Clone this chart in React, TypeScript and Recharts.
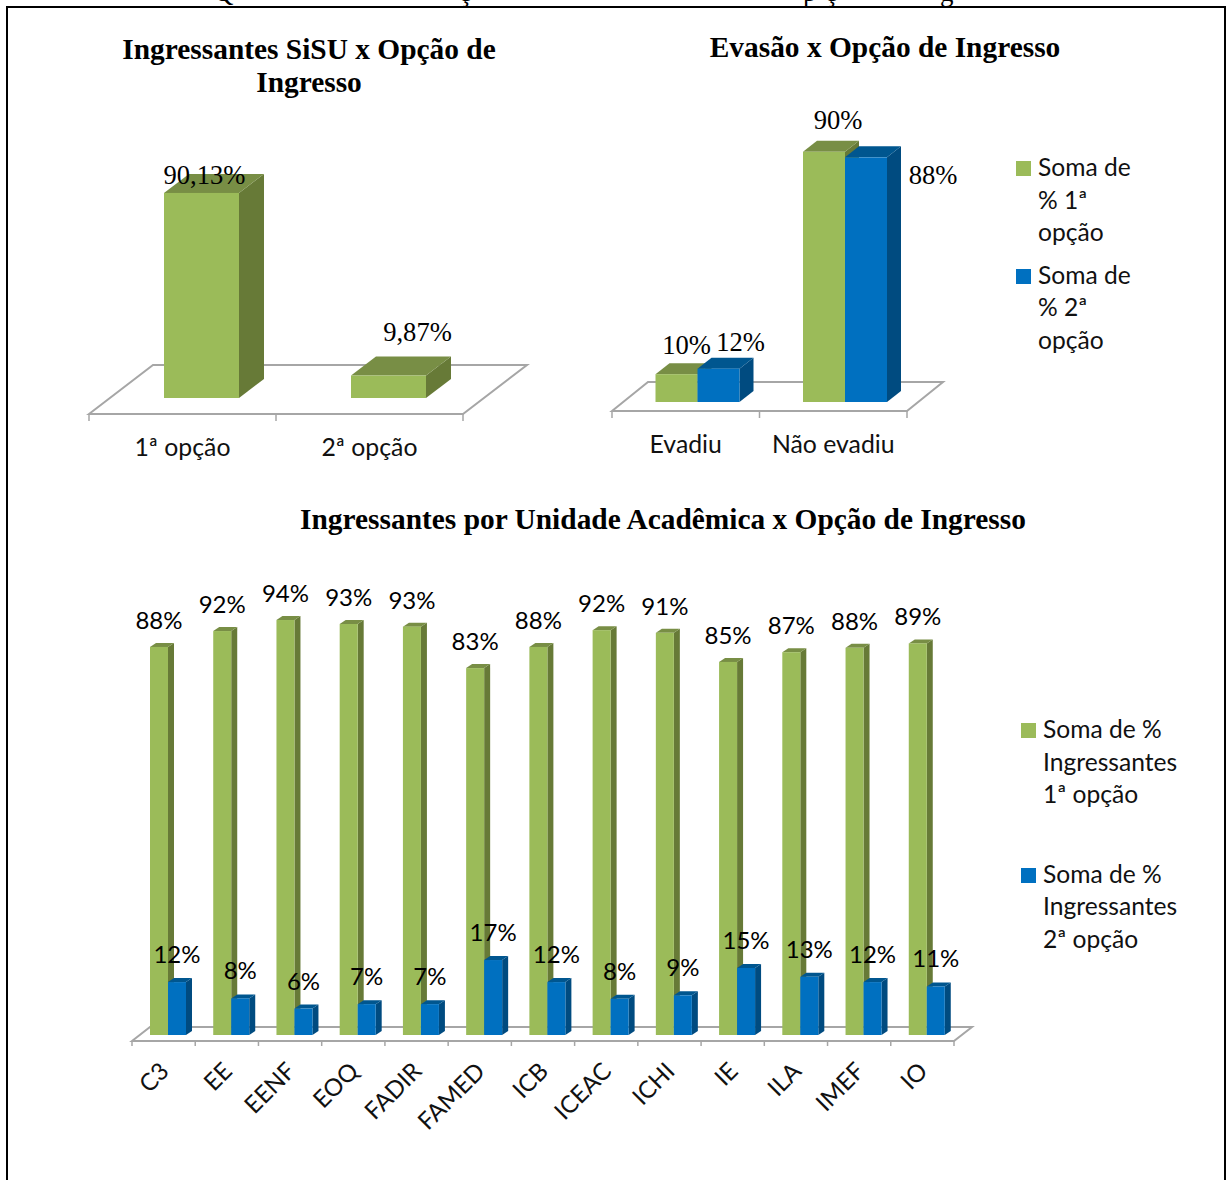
import { BarChart, Bar, XAxis, YAxis, LabelList, Legend, usePlotArea } from "recharts";

// chart 1
const opcoes = ["1ª opção", "2ª opção"];
const ingressantes = [90.13, 9.87];
const ingressantesNudge = [
  [3, -18],
  [29, -44],
];

// chart 2
const situacoes = ["Evadiu", "Não evadiu"];
const evasao1 = [10, 90];
const evasao2 = [12, 88];
const evasao1Nudge = [
  [10, -29],
  [14, -32],
];
const evasao2Nudge = [
  [22, -27],
  [67, 18],
];

// chart 3
const unidades = ["C3", "EE", "EENF", "EOQ", "FADIR", "FAMED", "ICB", "ICEAC", "ICHI", "IE", "ILA", "IMEF", "IO"];
const unidade1 = [88, 91.6, 94.1, 93.2, 92.6, 83.2, 88, 91.8, 91.2, 84.6, 86.8, 87.8, 88.8];
const unidade2 = [12, 8.3, 6, 7, 7, 17, 12, 8.2, 9, 15.2, 13.2, 12, 11];

// what is left of the caption cut off above the frame
const captionLetters = ["Q", "ç", "p", "ç", "g"];
const captionX = [214, 459, 803, 825, 940];

const GREEN = { front: "#9BBB59", top: "#788E45", side: "#677A37" };
const BLUE = { front: "#0070C0", top: "#00568F", side: "#004B80" };
const FLOOR = "#A6A6A6";
const SERIF = "'Liberation Serif', serif";
const SANS = "Lato, sans-serif";

const toRows = (cats: string[], ...series: number[][]) =>
  cats.map((name, i) => {
    const row: any = { name };
    series.forEach((s, k) => (row["s" + k] = s[i]));
    return row;
  });

// bar drawn as a box: front face, top and side, moved back onto the floor
function box(colors: any, dx: number, dy: number, depthX: number, depthY: number) {
  return (p: any) => {
    const x = p.x + dx;
    const y = p.y + dy;
    const r = x + p.width;
    const b = y + p.height;
    return (
      <g>
        <polygon points={`${r},${y} ${r + depthX},${y - depthY} ${r + depthX},${b - depthY} ${r},${b}`} fill={colors.side} />
        <polygon points={`${x},${y} ${x + depthX},${y - depthY} ${r + depthX},${y - depthY} ${r},${y}`} fill={colors.top} />
        <rect x={x} y={y} width={p.width} height={p.height} fill={colors.front} />
      </g>
    );
  };
}

function Floor({ count, depthX, depthY, tick }: { count: number; depthX: number; depthY: number; tick: number }) {
  const area = usePlotArea();
  if (!area) return null;
  const { x, y, width, height } = area;
  const base = y + height;
  const marks = [];
  for (let i = 0; i <= count; i++) {
    const tx = x + (width * i) / count;
    marks.push(<line key={i} x1={tx} x2={tx} y1={base} y2={base + tick} stroke={FLOOR} strokeWidth={1.5} />);
  }
  return (
    <g>
      <polygon
        points={`${x},${base} ${x + depthX},${base - depthY} ${x + width + depthX},${base - depthY} ${x + width},${base}`}
        fill="#fff"
        stroke={FLOOR}
        strokeWidth={2}
      />
      {marks}
    </g>
  );
}

function barLabel(dx: number, dy: number, nudge: number[][] | null, font: string, size: number, fmt: (v: number) => string, lift = 0) {
  return (p: any) => {
    const n = nudge ? nudge[p.index] : [0, -lift];
    return (
      <text
        x={p.x + p.width / 2 + dx + n[0]}
        y={p.y + dy + n[1]}
        textAnchor="middle"
        dominantBaseline="central"
        fontFamily={font}
        fontSize={size}
        fill="#000"
      >
        {fmt(p.value)}
      </text>
    );
  };
}

const flatTick = (p: any) => (
  <text x={p.x} y={p.y} textAnchor="middle" dominantBaseline="central" fontFamily={SANS} fontSize={24.8} fill="#111">
    {p.payload.value}
  </text>
);

const slantTick = (p: any) => (
  <text
    x={p.x}
    y={p.y}
    textAnchor="end"
    dominantBaseline="central"
    fontFamily={SANS}
    fontSize={24}
    fill="#111"
    transform={`rotate(-45 ${p.x} ${p.y})`}
  >
    {p.payload.value}
  </text>
);

function legendContent(width: number, gap: number) {
  return (p: any) => (
    <div style={{ width, fontFamily: SANS, fontSize: 24.6, lineHeight: "32.5px", color: "#111" }}>
      {p.payload.map((e: any, i: number) => (
        <div key={i} style={{ position: "relative", paddingLeft: 22, marginBottom: gap }}>
          <span style={{ position: "absolute", left: 0, top: 10, width: 15, height: 15, background: e.color }} />
          {e.value}
        </div>
      ))}
    </div>
  );
}

const titleStyle: any = {
  position: "absolute",
  fontFamily: SERIF,
  fontWeight: "bold",
  fontSize: 29.4,
  lineHeight: "33px",
  textAlign: "center",
  color: "#000",
};

export default function App() {
  return (
    <div style={{ position: "absolute", left: 0, top: 0, width: 1226, height: 1180, overflow: "hidden", background: "#fff" }}>
      <svg style={{ position: "absolute", left: 0, top: 0 }} width={1226} height={6}>
        {captionLetters.map((c, i) => (
          <text key={i} x={captionX[i]} y={1} fontFamily={SERIF} fontSize={27} fill="#000">
            {c}
          </text>
        ))}
      </svg>
      <div style={{ position: "absolute", left: 6, top: 6, width: 1216, height: 1300, border: "2px solid #000" }} />

      <div style={{ ...titleStyle, left: 89, top: 33, width: 440 }}>Ingressantes SiSU x Opção de Ingresso</div>
      <div style={{ ...titleStyle, left: 640, top: 31, width: 490 }}>Evasão x Opção de Ingresso</div>
      <div style={{ ...titleStyle, left: 200, top: 503, width: 926 }}>Ingressantes por Unidade Acadêmica x Opção de Ingresso</div>

      <div style={{ position: "absolute", left: 60, top: 100 }}>
        <BarChart
          width={480}
          height={380}
          data={toRows(opcoes, ingressantes)}
          barSize={75}
          margin={{ left: 29, right: 77, top: 86.5, bottom: 20 }}
        >
          <Floor count={2} depthX={64} depthY={49} tick={7} />
          <XAxis dataKey="name" height={46} axisLine={false} tickLine={false} interval={0} tick={flatTick} tickMargin={26} />
          <YAxis hide domain={[0, 100]} />
          <Bar dataKey="s0" isAnimationActive={false} shape={box(GREEN, 19, -16, 25, 19)}>
            <LabelList dataKey="s0" content={barLabel(19, -16, ingressantesNudge, SERIF, 26.6, (v) => v.toFixed(2).replace(".", ",") + "%")} />
          </Bar>
        </BarChart>
      </div>

      <div style={{ position: "absolute", left: 590, top: 100 }}>
        <BarChart
          width={620}
          height={380}
          data={toRows(situacoes, evasao1, evasao2)}
          barSize={42}
          barGap={0}
          margin={{ left: 22, right: 188, top: 33, bottom: 20 }}
        >
          <Floor count={2} depthX={36} depthY={29} tick={7} />
          <XAxis dataKey="name" height={49} axisLine={false} tickLine={false} interval={0} tick={flatTick} tickMargin={26} />
          <YAxis hide domain={[0, 100]} />
          <Legend
            layout="vertical"
            align="right"
            verticalAlign="top"
            content={legendContent(115, 10)}
            wrapperStyle={{ left: 426, top: 51, width: 115 }}
          />
          <Bar dataKey="s0" name="Soma de % 1ª opção" fill={GREEN.front} isAnimationActive={false} shape={box(GREEN, 11.5, -9, 14, 11)}>
            <LabelList dataKey="s0" content={barLabel(11.5, -9, evasao1Nudge, SERIF, 26.6, (v) => v + "%")} />
          </Bar>
          <Bar dataKey="s1" name="Soma de % 2ª opção" fill={BLUE.front} isAnimationActive={false} shape={box(BLUE, 11.5, -9, 14, 11)}>
            <LabelList dataKey="s1" content={barLabel(11.5, -9, evasao2Nudge, SERIF, 26.6, (v) => v + "%")} />
          </Bar>
        </BarChart>
      </div>

      <div style={{ position: "absolute", left: 100, top: 560 }}>
        <BarChart
          width={1126}
          height={620}
          data={toRows(unidades, unidade1, unidade2)}
          barSize={18}
          barGap={0}
          margin={{ left: 32, right: 112, top: 40, bottom: 0 }}
        >
          <Floor count={13} depthX={18} depthY={14} tick={5} />
          <XAxis dataKey="name" height={139} axisLine={false} tickLine={false} interval={0} tick={slantTick} tickMargin={19} />
          <YAxis hide domain={[0, 100]} />
          <Legend
            layout="vertical"
            align="right"
            verticalAlign="top"
            content={legendContent(160, 47)}
            wrapperStyle={{ left: 921, top: 153, width: 160 }}
          />
          <Bar dataKey="s0" name="Soma de % Ingressantes 1ª opção" fill={GREEN.front} isAnimationActive={false} shape={box(GREEN, 4, -6, 6, 4)}>
            <LabelList dataKey="s0" content={barLabel(4, 0, null, SANS, 24, (v) => Math.round(v) + "%", 33.5)} />
          </Bar>
          <Bar dataKey="s1" name="Soma de % Ingressantes 2ª opção" fill={BLUE.front} isAnimationActive={false} shape={box(BLUE, 4, -6, 6, 4)}>
            <LabelList dataKey="s1" content={barLabel(4, 0, null, SANS, 24, (v) => Math.round(v) + "%", 34.5)} />
          </Bar>
        </BarChart>
      </div>
    </div>
  );
}
